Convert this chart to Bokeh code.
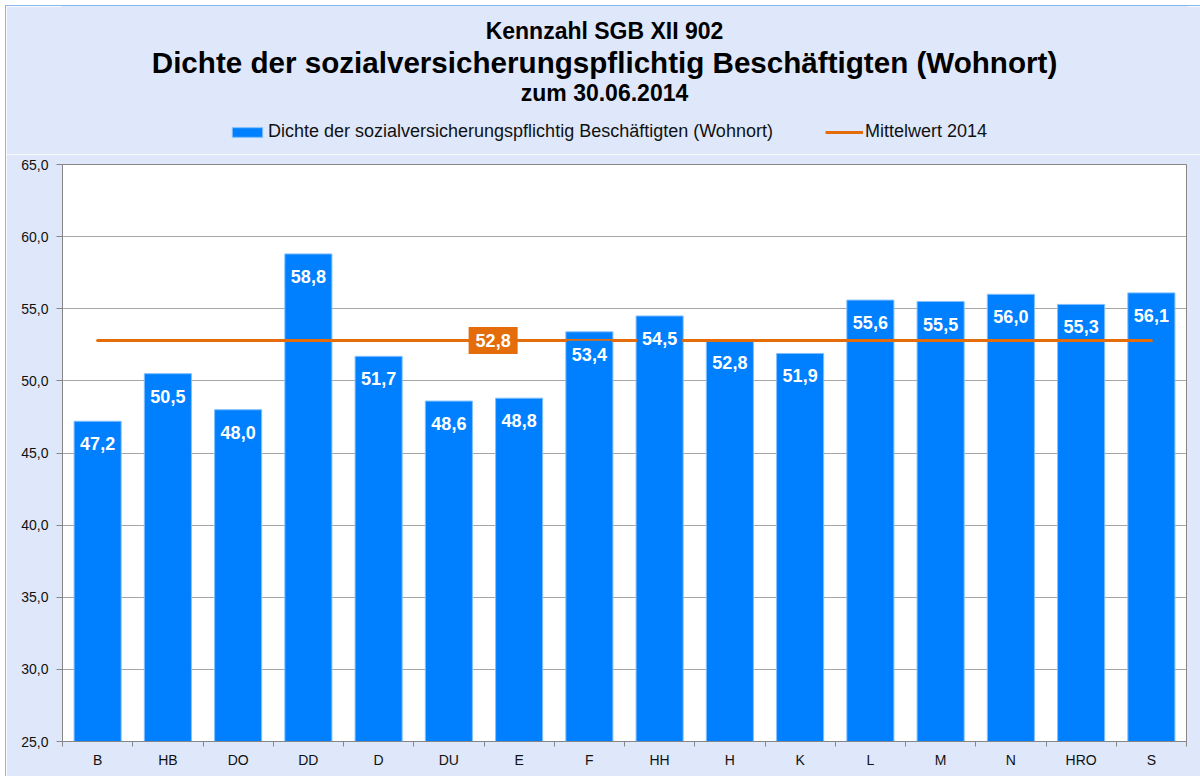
from bokeh.plotting import figure
from bokeh.layouts import column
from bokeh.models import (Range1d, FactorRange, LinearAxis, FixedTicker, Label,
                          Legend, LegendItem, ColumnDataSource)
from bokeh.core.properties import value
from bokeh.embed import file_html
from bokeh.resources import INLINE

# ---------------- data ----------------
categories = ["B", "HB", "DO", "DD", "D", "DU", "E", "F", "HH", "H", "K", "L", "M", "N", "HRO", "S"]
dichte = [47.2, 50.5, 48.0, 58.8, 51.7, 48.6, 48.8, 53.4, 54.5, 52.8, 51.9, 55.6, 55.5, 56.0, 55.3, 56.1]
mittelwert_2014 = 52.8
mean_label_category = "E"
y_ticks = [25, 30, 35, 40, 45, 50, 55, 60, 65]
y_tick_labels = ["25,0", "30,0", "35,0", "40,0", "45,0", "50,0", "55,0", "60,0", "65,0"]
title_lines = ["Kennzahl SGB XII 902",
               "Dichte der sozialversicherungspflichtig Beschäftigten (Wohnort)",
               "zum 30.06.2014"]
series_names = ["Dichte der sozialversicherungspflichtig Beschäftigten (Wohnort)",
                "Mittelwert 2014"]

# ---------------- style ----------------
FONT = "Liberation Sans"
BG = "#dfe8fb"
BAR = "#0080ff"
BAR_EDGE = "#80bfff"
ORANGE = "#e46c0a"
GRID = "#a6a6a6"
AXIS = "#868686"
W = 1194
HEAD_H = 148
MAIN_H = 622
NAN = float("nan")


def fmt(v):
    return f"{v:.1f}".replace(".", ",")


n = len(categories)

# ---------------- header (titles + legend) ----------------
head = figure(width=W, height=HEAD_H, x_range=Range1d(0, 1), y_range=Range1d(0, 1),
              output_backend="svg", toolbar_location=None,
              x_axis_location=None, y_axis_location=None,
              min_border_left=56, min_border_right=14, min_border_top=0, min_border_bottom=0,
              background_fill_color=BG, border_fill_color=BG,
              outline_line_color=BG, outline_line_width=3)
head.grid.visible = False

for txt, y, size in [(title_lines[0], 124, "23px"), (title_lines[1], 92, "29.6px"),
                     (title_lines[2], 62, "23px")]:
    head.add_layout(Label(x=542, y=y, x_units="screen", y_units="screen", text=txt,
                          text_align="center", text_baseline="middle", text_color="black",
                          text_font=FONT, text_font_style="bold", text_font_size=size))

# legend swatches (styled like the series in the main chart; no visible data)
h_bar = head.vbar(x=[NAN], top=[NAN], width=0.5, fill_color=BAR, line_color=BAR_EDGE)
h_line = head.line(x=[NAN, NAN], y=[NAN, NAN], line_width=3, line_color=ORANGE)
legend = Legend(items=[LegendItem(label=series_names[0], renderers=[h_bar]),
                       LegendItem(label=series_names[1], renderers=[h_line])],
                orientation="horizontal", location=(166, 12),
                background_fill_alpha=0, border_line_color=None,
                glyph_width=38, glyph_height=12, label_standoff=2, spacing=52,
                padding=0, margin=0, label_text_font=FONT, label_text_font_size="18px",
                label_text_color="#111111", label_height=18)
head.add_layout(legend)

# ---------------- main chart ----------------
p = figure(width=W, height=MAIN_H,
           x_range=FactorRange(*categories), y_range=Range1d(y_ticks[0], y_ticks[-1]),
           output_backend="svg", toolbar_location=None, x_axis_location=None,
           min_border_left=56, min_border_right=14, min_border_top=10, min_border_bottom=35,
           background_fill_color="white", border_fill_color=BG,
           outline_line_color=AXIS, outline_line_width=1)

# x axis: labels at category centres, ticks at the boundaries (synthetic coordinates)
xaxis = LinearAxis(ticker=FixedTicker(ticks=[i + 0.5 for i in range(n)],
                                      minor_ticks=list(range(n + 1))),
                   major_label_overrides={i + 0.5: c for i, c in enumerate(categories)})
xaxis.major_tick_out = 0
xaxis.major_tick_in = 0
xaxis.minor_tick_out = 5
xaxis.minor_tick_in = 0
xaxis.minor_tick_line_color = AXIS
xaxis.axis_line_color = AXIS
xaxis.major_label_text_font = FONT
xaxis.major_label_text_font_size = "14px"
xaxis.major_label_text_color = "#111111"
xaxis.major_label_standoff = 5
p.add_layout(xaxis, "below")

# y axis
p.yaxis.ticker = FixedTicker(ticks=y_ticks)
p.yaxis.major_label_overrides = dict(zip(y_ticks, y_tick_labels))
p.yaxis.major_tick_out = 6
p.yaxis.major_tick_in = 0
p.yaxis.minor_tick_line_color = None
p.yaxis.axis_line_color = AXIS
p.yaxis.major_tick_line_color = AXIS
p.yaxis.major_label_text_font = FONT
p.yaxis.major_label_text_font_size = "14px"
p.yaxis.major_label_text_color = "#111111"
p.yaxis.major_label_standoff = 8

p.ygrid.grid_line_color = GRID
p.ygrid.ticker = FixedTicker(ticks=y_ticks)
p.xgrid.visible = False

# bars
src = ColumnDataSource(dict(cat=categories, val=dichte, lab=[fmt(v) for v in dichte]))
p.vbar(x="cat", top="val", bottom=y_ticks[0], width=0.67, source=src,
       fill_color=BAR, line_color=BAR_EDGE, line_width=1)

# mean line
p.line(x=[categories[0], categories[-1]], y=[mittelwert_2014, mittelwert_2014],
       line_width=3, line_color=ORANGE, line_cap="round")

# value labels (opaque, bar-coloured boxes like the original)
p.text(x="cat", y="val", text="lab", source=src, text_align="center", text_baseline="top",
       y_offset=9, text_color="white", text_font=value(FONT), text_font_style="bold",
       text_font_size="18px", background_fill_color=BAR,
       padding=dict(left=5, right=5, top=7, bottom=2))

p.add_layout(Label(x=categories.index(mean_label_category) + 0.5, y=mittelwert_2014,
                   x_offset=-26, text=fmt(mittelwert_2014),
                   text_align="center", text_baseline="middle", text_color="white",
                   text_font=FONT, text_font_style="bold", text_font_size="18px",
                   background_fill_color=ORANGE,
                   padding=dict(left=7, right=7, top=7, bottom=7)))

layout = column(head, p, spacing=0,
                styles={"margin-left": "5px", "margin-top": "5px",
                        "border": "1px solid #8ab8ee"})

open("out.html", "w").write(file_html(layout, INLINE))
